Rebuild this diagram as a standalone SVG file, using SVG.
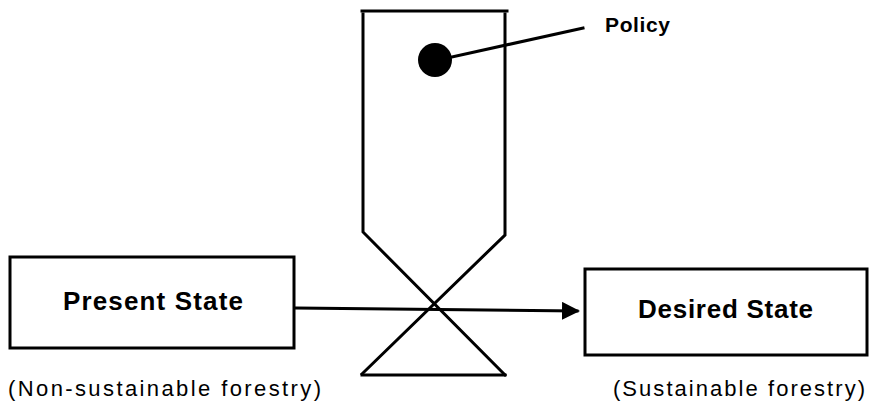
<svg xmlns="http://www.w3.org/2000/svg" width="869" height="407" viewBox="0 0 869 407">
<style>
.ln{fill:none;stroke:#000;stroke-width:3;stroke-linecap:square}
.bx{fill:#fff;stroke:#000;stroke-width:3}
.lbl{font-family:"Liberation Sans",Arial,sans-serif;font-weight:bold;font-size:26px;fill:#000}
.sub{font-family:"Liberation Sans",Arial,sans-serif;font-size:22px;fill:#000}
</style>
<defs>
<marker id="ah" markerWidth="6" markerHeight="6" refX="5" refY="3" orient="auto" markerUnits="strokeWidth">
<path d="M0,0 L6,3 L0,6 Z" fill="#000"/>
</marker>
</defs>
<g id="connectors">
<line class="ln" x1="296" y1="308" x2="577" y2="311" marker-end="url(#ah)"/>
<line class="ln" x1="452" y1="57" x2="583" y2="28"/>
</g>
<g id="policy-valve">
<line class="ln" x1="362" y1="11" x2="507" y2="11"/>
<polyline class="ln" points="363,14 363,232 505,375"/>
<polyline class="ln" points="505,14 505,235 362,374"/>
<line class="ln" x1="362" y1="375" x2="505" y2="375"/>
<circle cx="435" cy="60" r="17" fill="#000"/>
</g>
<g id="policy-label">
<text class="lbl" x="605" y="32" style="font-size:21px" textLength="65" lengthAdjust="spacing">Policy</text>
</g>
<g id="present-state">
<rect class="bx" x="10" y="257" width="284" height="91"/>
<text class="lbl" x="63" y="310" textLength="180" lengthAdjust="spacing">Present State</text>
<text class="sub" x="8" y="396" textLength="313" lengthAdjust="spacing">(Non-sustainable forestry)</text>
</g>
<g id="desired-state">
<rect class="bx" x="585" y="269" width="282" height="86"/>
<text class="lbl" x="638" y="318" textLength="175" lengthAdjust="spacing">Desired State</text>
<text class="sub" x="613" y="396" textLength="252" lengthAdjust="spacing">(Sustainable forestry)</text>
</g>
</svg>
